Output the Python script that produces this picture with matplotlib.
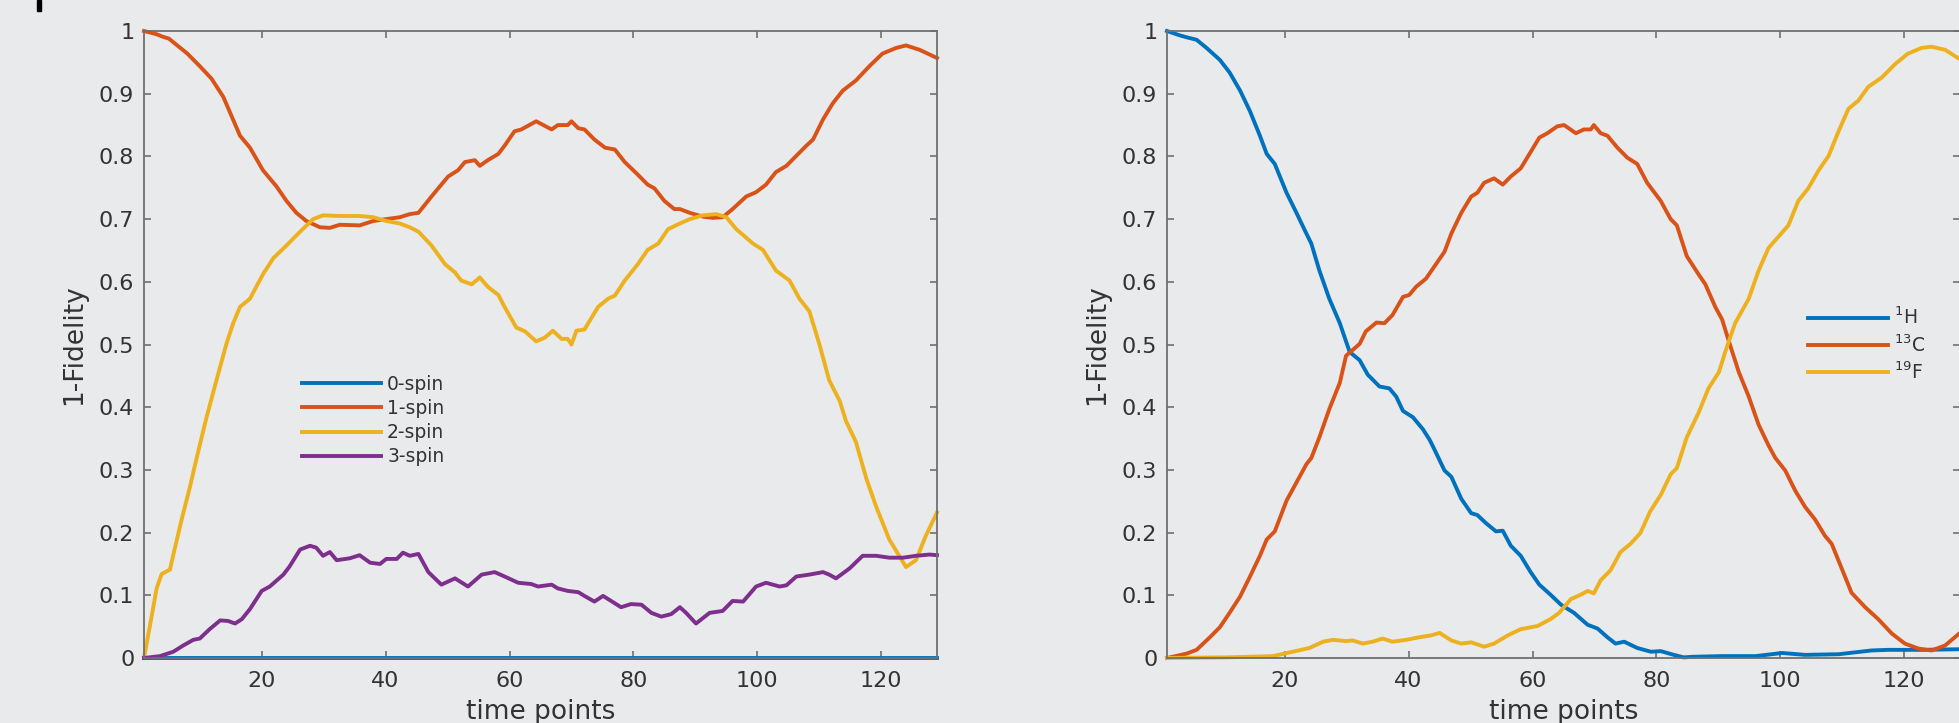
import matplotlib
matplotlib.use("Agg")
import matplotlib.pyplot as plt
from matplotlib.patches import Rectangle

# ---- left panel: spin-order populations ----
spin0_t = [1, 129]
spin0_y = [0, 0]

spin1_t = [1, 3, 4, 5, 6, 8, 10, 11.9, 13.8, 16.5, 18.1, 20.2, 22.4, 24, 25.6, 27.2, 29.4, 31, 32.6,
           35.8, 38, 40.1, 42.3, 43.9, 45.3, 47.4, 49.0, 50.1, 51.7, 52.8, 54.4, 55.2, 56.5, 58.2,
           59.2, 60.8, 61.9, 64.3, 66.8, 67.8, 69.4, 70.0, 71.1, 72.1, 73.7, 75.4, 77.0, 78.6, 80.7,
           82.3, 83.4, 85.0, 86.6, 87.5, 89.1, 91.2, 92.8, 94.4, 96.0, 98.2, 99.8, 101.4, 103.0,
           104.7, 106.3, 107.9, 109.0, 110.6, 112.2, 113.8, 115.9, 118.1, 120.2, 122.4, 124.0,
           126.2, 129]
spin1_y = [1.0, 0.995, 0.991, 0.988, 0.98, 0.964, 0.944, 0.924, 0.895, 0.833, 0.814, 0.778, 0.752,
           0.729, 0.71, 0.697, 0.687, 0.686, 0.691, 0.69, 0.697, 0.70, 0.703, 0.708, 0.710, 0.736,
           0.755, 0.768, 0.778, 0.791, 0.794, 0.785, 0.794, 0.804, 0.817, 0.840, 0.843, 0.856,
           0.843, 0.850, 0.850, 0.856, 0.845, 0.843, 0.827, 0.814, 0.811, 0.791, 0.771, 0.755,
           0.749, 0.729, 0.716, 0.716, 0.710, 0.704, 0.702, 0.703, 0.716, 0.736, 0.743, 0.755,
           0.775, 0.785, 0.801, 0.817, 0.827, 0.859, 0.885, 0.905, 0.921, 0.944, 0.964, 0.973,
           0.977, 0.970, 0.957]

spin2_t = [1, 1.97, 3.04, 3.85, 5.19, 6.0, 7.08, 8.42, 9.5, 11.1, 12.7, 14.3, 15.4, 16.5, 18.1,
           20.2, 21.9, 24.0, 26.2, 28.3, 29.9, 32.6, 35.8, 38.0, 40.1, 42.3, 43.9, 45.3, 47.4,
           49.6, 51.2, 52.2, 53.9, 55.2, 56.5, 58.2, 59.2, 61.1, 62.5, 64.3, 65.7, 67.0, 68.4,
           69.4, 70.0, 70.8, 72.1, 74.3, 75.9, 77.0, 78.6, 80.7, 82.3, 84.0, 85.6, 87.5, 89.1,
           91.2, 93.4, 95.0, 96.6, 99.3, 100.9, 103.0, 105.2, 106.8, 108.4, 110.0, 111.6, 113.3,
           114.3, 115.9, 117.6, 119.2, 121.3, 122.9, 124.0, 125.6, 127.2, 129]
spin2_y = [0.0, 0.052, 0.111, 0.134, 0.141, 0.176, 0.221, 0.273, 0.319, 0.384, 0.443, 0.501, 0.534,
           0.560, 0.573, 0.612, 0.638, 0.658, 0.680, 0.700, 0.706, 0.705, 0.705, 0.703, 0.697,
           0.693, 0.687, 0.680, 0.658, 0.628, 0.615, 0.602, 0.596, 0.607, 0.592, 0.579, 0.560,
           0.527, 0.521, 0.505, 0.511, 0.522, 0.509, 0.509, 0.500, 0.522, 0.524, 0.560, 0.573,
           0.578, 0.602, 0.628, 0.651, 0.661, 0.684, 0.693, 0.700, 0.706, 0.708, 0.703, 0.684,
           0.661, 0.651, 0.618, 0.602, 0.573, 0.553, 0.501, 0.443, 0.410, 0.378, 0.345, 0.286,
           0.241, 0.189, 0.163, 0.145, 0.156, 0.195, 0.232]

spin3_t = [1, 3.58, 5.73, 7.34, 8.96, 10.0, 11.6, 13.3, 14.6, 15.7, 16.8, 18.1, 20.0, 21.3, 23.5,
           24.5, 26.2, 27.8, 28.8, 29.9, 31.0, 32.1, 34.2, 35.8, 37.5, 39.1, 40.1, 41.8, 42.8,
           43.9, 45.3, 46.9, 49.0, 51.2, 53.3, 55.5, 57.6, 59.2, 61.4, 63.5, 64.6, 66.8, 67.8,
           69.4, 71.1, 72.1, 73.7, 75.1, 76.4, 78.0, 79.6, 81.3, 82.9, 84.5, 86.1, 87.5, 88.5,
           90.1, 92.3, 94.4, 96.0, 97.7, 99.8, 101.4, 103.6, 104.7, 106.3, 108.4, 110.6, 111.6,
           112.7, 114.9, 117.0, 119.2, 121.3, 123.5, 125.6, 127.8, 129]
spin3_y = [0.0, 0.003, 0.010, 0.020, 0.029, 0.031, 0.046, 0.060, 0.059, 0.055, 0.062, 0.078, 0.107,
           0.114, 0.133, 0.146, 0.173, 0.179, 0.176, 0.163, 0.169, 0.156, 0.159, 0.164, 0.152,
           0.150, 0.158, 0.158, 0.168, 0.163, 0.166, 0.137, 0.117, 0.127, 0.114, 0.133, 0.137,
           0.130, 0.120, 0.118, 0.114, 0.117, 0.111, 0.107, 0.105, 0.099, 0.090, 0.099, 0.091,
           0.081, 0.086, 0.085, 0.072, 0.066, 0.070, 0.081, 0.072, 0.055, 0.072, 0.075, 0.091,
           0.090, 0.114, 0.120, 0.114, 0.116, 0.130, 0.133, 0.137, 0.133, 0.127, 0.143, 0.163,
           0.163, 0.160, 0.160, 0.163, 0.165, 0.164]

# ---- right panel: nuclei ----
H1_t = [1, 3.09, 4.17, 5.78, 7.39, 9.53, 11.1, 12.8, 14.4, 16.0, 17.1, 18.4, 20.3, 21.9, 23.5,
        24.3, 25.6, 27.2, 28.9, 29.9, 30.5, 32.1, 33.4, 35.3, 36.9, 38.0, 39.1, 40.7, 42.3, 43.4,
        44.2, 45.8, 46.9, 48.5, 50.1, 51.1, 52.5, 54.1, 55.2, 56.5, 58.1, 59.7, 61.1, 62.9, 64.6,
        66.7, 68.9, 70.5, 72.1, 73.4, 74.8, 76.9, 79.1, 80.7, 82.8, 84.4, 86.0, 90.6, 96.0,
        100.3, 104.0, 109.4, 114.7, 117.4, 122.8, 129]
H1_y = [1.0, 0.993, 0.990, 0.986, 0.973, 0.954, 0.934, 0.905, 0.872, 0.833, 0.804, 0.788, 0.742,
        0.710, 0.677, 0.661, 0.618, 0.573, 0.534, 0.505, 0.488, 0.475, 0.452, 0.433, 0.430, 0.417,
        0.394, 0.384, 0.365, 0.348, 0.332, 0.299, 0.289, 0.254, 0.231, 0.228, 0.215, 0.202, 0.203,
        0.179, 0.163, 0.137, 0.117, 0.101, 0.085, 0.072, 0.053, 0.047, 0.033, 0.023, 0.026, 0.016,
        0.010, 0.011, 0.005, 0.001, 0.002, 0.003, 0.003, 0.008, 0.005, 0.006, 0.012, 0.013, 0.013,
        0.014]

C13_t = [1, 4.17, 5.78, 7.92, 9.53, 11.1, 12.8, 14.4, 16.0, 17.1, 18.4, 20.3, 21.9, 23.5, 24.3,
         25.6, 27.2, 28.9, 29.9, 32.1, 33.1, 34.8, 36.1, 37.4, 39.1, 40.1, 41.2, 42.8, 44.2, 45.8,
         46.9, 48.5, 50.1, 51.1, 52.2, 53.8, 55.2, 56.5, 58.1, 59.7, 61.1, 62.4, 64.0, 65.1, 67.0,
         68.3, 69.4, 69.9, 71.0, 72.1, 73.7, 75.3, 76.9, 78.5, 80.7, 82.3, 83.3, 84.9, 86.8, 87.9,
         89.5, 90.6, 91.7, 93.3, 94.9, 96.5, 98.1, 99.2, 100.8, 102.4, 104.0, 105.6, 107.2, 108.3,
         109.9, 111.5, 113.7, 115.8, 118.0, 120.1, 122.3, 124.4, 126.6, 129]
C13_y = [0.0, 0.007, 0.013, 0.033, 0.049, 0.072, 0.098, 0.130, 0.163, 0.189, 0.202, 0.251, 0.280,
         0.309, 0.319, 0.352, 0.397, 0.439, 0.482, 0.501, 0.521, 0.535, 0.534, 0.547, 0.576, 0.579,
         0.592, 0.605, 0.625, 0.648, 0.677, 0.710, 0.736, 0.742, 0.758, 0.765, 0.755, 0.768, 0.781,
         0.807, 0.830, 0.837, 0.848, 0.850, 0.837, 0.843, 0.843, 0.850, 0.837, 0.833, 0.814, 0.798,
         0.788, 0.758, 0.729, 0.700, 0.690, 0.641, 0.612, 0.596, 0.560, 0.540, 0.505, 0.456, 0.417,
         0.372, 0.339, 0.319, 0.299, 0.267, 0.241, 0.221, 0.195, 0.182, 0.143, 0.104, 0.081, 0.062,
         0.039, 0.023, 0.015, 0.012, 0.020, 0.040]

F19_t = [1, 10.6, 18.1, 21.3, 24.0, 26.2, 27.8, 29.9, 31.0, 32.6, 34.2, 35.8, 37.4, 39.6, 41.7,
         43.6, 45.0, 46.9, 48.5, 50.1, 52.2, 53.8, 56.0, 58.1, 60.8, 62.9, 64.3, 66.2, 67.8, 68.9,
         69.9, 71.0, 72.6, 74.2, 75.8, 77.4, 79.0, 80.7, 82.3, 83.3, 84.9, 86.8, 88.4, 90.1, 91.1,
         92.7, 94.9, 96.5, 98.1, 99.7, 101.3, 102.9, 104.5, 106.2, 107.8, 109.4, 111.0, 112.6,
         114.2, 116.4, 118.5, 120.6, 122.8, 124.4, 126.6, 129]
F19_y = [0.0, 0.001, 0.003, 0.010, 0.016, 0.026, 0.029, 0.027, 0.028, 0.023, 0.026, 0.031, 0.026,
         0.029, 0.033, 0.036, 0.040, 0.028, 0.023, 0.025, 0.018, 0.023, 0.036, 0.046, 0.051, 0.062,
         0.072, 0.094, 0.101, 0.107, 0.103, 0.124, 0.140, 0.169, 0.182, 0.199, 0.234, 0.260, 0.293,
         0.303, 0.352, 0.391, 0.430, 0.456, 0.488, 0.534, 0.573, 0.618, 0.654, 0.672, 0.690, 0.729,
         0.749, 0.778, 0.801, 0.840, 0.876, 0.889, 0.911, 0.926, 0.947, 0.964, 0.973, 0.975, 0.970,
         0.955]

left_labels = ["0-spin", "1-spin", "2-spin", "3-spin"]
right_labels = [r"$^{1}$H", r"$^{13}$C", r"$^{19}$F"]
x_ticks = [20, 40, 60, 80, 100, 120]
y_ticks = [0, 0.1, 0.2, 0.3, 0.4, 0.5, 0.6, 0.7, 0.8, 0.9, 1]
y_tick_labels = ["0", "0.1", "0.2", "0.3", "0.4", "0.5", "0.6", "0.7", "0.8", "0.9", "1"]

blue = "#0072BD"
orange = "#D95319"
yellow = "#EDB120"
purple = "#7E2F8E"
bg = "#E9EAEC"
axcol = "#707070"
txtcol = "#333333"

plt.rcParams['font.family'] = ['DejaVu Sans']
plt.rcParams['mathtext.fontset'] = 'dejavusans'

fig = plt.figure(figsize=(19.59, 7.23), dpi=100, facecolor=bg)
ax1 = fig.add_axes([0.0735, 0.0899, 0.4048, 0.8672])
ax2 = fig.add_axes([0.5957, 0.0899, 0.4048, 0.8672])

lw = 2.8
ax1.plot(spin0_t, spin0_y, color=blue, lw=lw, clip_on=False, label=left_labels[0])
ax1.plot(spin1_t, spin1_y, color=orange, lw=lw, clip_on=False, label=left_labels[1])
ax1.plot(spin2_t, spin2_y, color=yellow, lw=lw, clip_on=False, label=left_labels[2])
ax1.plot(spin3_t, spin3_y, color=purple, lw=lw, clip_on=False, label=left_labels[3])

ax2.plot(H1_t, H1_y, color=blue, lw=lw, clip_on=False, label=right_labels[0])
ax2.plot(C13_t, C13_y, color=orange, lw=lw, clip_on=False, label=right_labels[1])
ax2.plot(F19_t, F19_y, color=yellow, lw=lw, clip_on=False, label=right_labels[2])

for ax in (ax1, ax2):
    ax.set_facecolor(bg)
    ax.set_xlim(1, 129)
    ax.set_ylim(0, 1)
    ax.set_xticks(x_ticks)
    ax.set_yticks(y_ticks)
    ax.set_yticklabels(y_tick_labels)
    for s in ax.spines.values():
        s.set_color(axcol)
        s.set_linewidth(1.3)
    ax.tick_params(direction='in', length=5, width=1.2, color=axcol, labelcolor=txtcol,
                   labelsize=16, top=True, right=True)
    ax.tick_params(axis='x', pad=9)
    ax.tick_params(axis='y', pad=7)
    ax.set_ylabel("1-Fidelity", fontsize=19, color=txtcol)
    ax.set_xlabel("time points", fontsize=19, color=txtcol)
    ax.yaxis.set_label_coords(-0.072, 0.5)
    ax.xaxis.set_label_coords(0.5, -0.066)

leg1 = ax1.legend(loc='upper left', bbox_to_anchor=(0.199, 0.452), frameon=False,
                  fontsize=13.5, handlelength=4.2, handletextpad=0.35, labelspacing=0.28,
                  borderpad=0, borderaxespad=0)
leg2 = ax2.legend(loc='upper left', bbox_to_anchor=(0.808, 0.56), frameon=False,
                  fontsize=13.5, handlelength=4.3, handletextpad=0.3, labelspacing=0.3,
                  borderpad=0, borderaxespad=0)
for leg in (leg1, leg2):
    for t in leg.get_texts():
        t.set_color(txtcol)

# cut-off mark at the top-left corner of the original figure
fig.patches.append(Rectangle((37 / 1959, 1 - 11 / 723), 4 / 1959, 11 / 723,
                             transform=fig.transFigure, color='black'))

fig.savefig("out.png", dpi=100, facecolor=bg)
